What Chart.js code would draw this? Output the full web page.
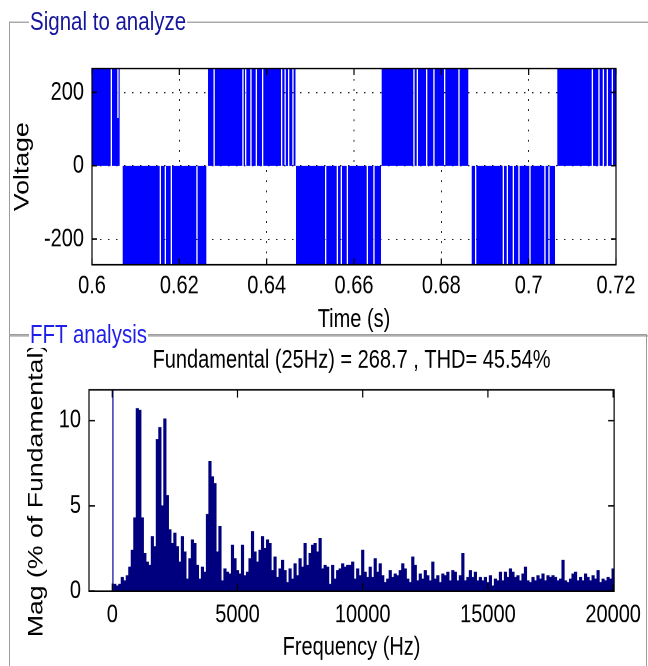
<!DOCTYPE html>
<html>
<head>
<meta charset="utf-8">
<script src="https://cdn.jsdelivr.net/npm/chart.js@4.4.0/dist/chart.umd.min.js"></script>
<style>
  html { margin: 0; padding: 0; background: #fff; overflow: hidden; }
  body { margin: 0; padding: 0; background: #fff; height: 666px; }
  #page {
    position: relative; width: 648px; height: 525px;
    transform: scaleY(1.27); transform-origin: 0 0;
    font-family: "Liberation Sans", Arial, sans-serif;
  }
  .panel { position: absolute; border: 1px solid #9c9c9c; }
  .legend { position: absolute; top: -13px; background: #fff; padding: 0 1px; font-size: 20.5px; line-height: 24px; white-space: nowrap; }
  canvas { position: absolute; left: 0; }
</style>
</head>
<body>
<div id="page">
  <div class="panel" style="left:9px; top:17px; width:700px; height:246px;">
    <span class="legend" style="left:19px; color:#15159c;">Signal to analyze</span>
  </div>
  <div class="panel" style="left:9px; top:263px; width:636px; height:300px;">
    <span class="legend" style="left:19px; color:#1f1fe6;">FFT analysis</span>
  </div>
  <canvas id="signalChart" width="648" height="270" style="top:0"></canvas>
  <canvas id="fftChart" width="648" height="250" style="top:274px"></canvas>
</div>

<script>
// signal to analyze: half-cycle blocks of the PWM voltage (time in s, level in V)
const blockStart = [0.599, 0.60703, 0.62657, 0.64672, 0.66634, 0.68696, 0.70656];
const blockEnd = [0.60634, 0.62618, 0.64660, 0.66618, 0.68617, 0.70603, 0.721];
const blockLevel = [265, -270, 265, -270, 265, -270, 265];

// short gaps inside the blocks (time in s, level the signal drops to)
const notchTime = [
  0.60428, 0.60579,
  0.61550, 0.61665, 0.61802, 0.62389,
  0.62782, 0.63442, 0.63504, 0.63625, 0.63749, 0.63893, 0.64328, 0.64408, 0.64488, 0.64587,
  0.65336, 0.65604, 0.65695, 0.65833, 0.66291, 0.66442,
  0.67358, 0.67436, 0.67649, 0.67816, 0.68061, 0.68389,
  0.68771, 0.69405, 0.69497, 0.69634, 0.69763, 0.70015, 0.70358, 0.70450,
  0.71444, 0.71595, 0.71696, 0.71787, 0.71902,
];
const notchLevel = [
  0, 130,
  0, 0, 0, 0,
  0, 0, 0, 0, 0, 0, 0, 0, 0, 0,
  0, 0, 0, 0, 0, 0,
  0, 0, 0, 0, 0, 0,
  0, 0, 0, 0, 0, 0, 0, 0,
  0, 0, 0, 0, 0,
];
const notchWidth = 0.0003;

const timeTicks = [0.6, 0.62, 0.64, 0.66, 0.68, 0.7, 0.72];

// FFT analysis: harmonic magnitude (% of fundamental) in 100 Hz bins, 100 Hz .. 20000 Hz
const binStep = 100;
const fundamentalFreq = 25;
const fundamentalMag = 100;
const specMag = [
  0.4, 0.3, 0.4, 0.8, 0.6, 0.9, 1.4, 2.4, 4.3, 10.7,
  10.6, 4.3, 2.2, 1.7, 1.5, 3.2, 2.6, 8.9, 9.6, 5.0,
  10.1, 5.6, 3.6, 2.8, 3.4, 2.6, 1.7, 3.2, 2.3, 0.7,
  1.9, 3.0, 2.8, 1.5, 0.7, 1.4, 1.1, 4.5, 7.6, 6.7,
  6.3, 2.3, 3.8, 0.6, 1.3, 1.1, 1.0, 2.7, 1.9, 1.2,
  1.0, 2.7, 0.9, 1.1, 1.9, 3.5, 2.3, 1.7, 2.4, 3.2,
  2.5, 3.0, 2.8, 1.2, 2.0, 0.8, 1.3, 1.8, 1.2, 0.5,
  1.3, 0.7, 1.6, 0.9, 1.9, 1.4, 2.8, 1.5, 2.2, 2.7,
  2.8, 2.3, 3.1, 1.3, 1.5, 1.4, 0.4, 1.5, 0.7, 1.2,
  1.3, 1.6, 1.4, 1.5, 1.5, 1.7, 0.7, 1.3, 0.9, 2.4,
  1.1, 0.8, 1.4, 0.8, 1.9, 1.1, 1.6, 0.9, 0.5, 0.7,
  1.2, 0.8, 1.0, 0.9, 1.2, 1.6, 1.3, 0.7, 0.5, 2.0,
  1.5, 0.6, 1.0, 0.7, 1.2, 0.9, 0.6, 1.7, 0.7, 0.9,
  0.5, 1.0, 0.9, 1.1, 0.6, 1.2, 1.1, 0.6, 0.9, 2.2,
  0.6, 0.8, 1.2, 0.8, 1.1, 0.6, 0.8, 0.6, 0.8, 0.5,
  0.9, 0.3, 0.7, 0.6, 1.1, 0.6, 1.1, 0.8, 1.3, 1.1,
  0.8, 0.9, 0.6, 1.0, 1.4, 0.6, 0.5, 0.8, 0.6, 0.9,
  0.7, 1.0, 0.6, 0.9, 0.8, 0.9, 0.8, 0.6, 0.7, 1.8,
  0.6, 0.5, 0.7, 1.0, 1.1, 0.6, 0.8, 0.6, 1.0, 0.8,
  0.6, 0.9, 0.7, 1.2, 0.5, 0.7, 0.6, 0.8, 0.7, 1.3,
];
const freqTicks = [0, 5000, 10000, 15000, 20000];
const magTicks = [0, 5, 10];

const fftTitle = "Fundamental (25Hz) = 268.7 , THD= 45.54%";

const FONT = "'Liberation Sans', Arial, sans-serif";

// build the stepped signal
var signalPoints = [];
for (var b = 0; b < blockStart.length; b++) {
  signalPoints.push({ x: blockStart[b], y: blockLevel[b] });
  for (var n = 0; n < notchTime.length; n++) {
    if (notchTime[n] > blockStart[b] && notchTime[n] < blockEnd[b]) {
      signalPoints.push({ x: notchTime[n], y: notchLevel[n] });
      signalPoints.push({ x: notchTime[n] + notchWidth, y: blockLevel[b] });
    }
  }
  signalPoints.push({ x: blockEnd[b], y: 0 });
}

var specPoints = specMag.map(function (m, i) {
  return { x: (i + 1) * binStep, y: m };
});

// black box round the axes with the ticks pointing inwards
const matlabFrame = {
  id: "matlabFrame",
  afterDatasetsDraw(chart, args, opts) {
    const ctx = chart.ctx;
    const a = chart.chartArea;
    const len = opts.tickLen || 5;
    const xs = chart.scales.x;
    const ys = chart.scales.y;
    ctx.save();
    ctx.strokeStyle = "#000";
    ctx.lineWidth = 1.2;
    ctx.beginPath();
    xs.ticks.forEach(function (t) {
      const px = xs.getPixelForValue(t.value);
      ctx.moveTo(px, a.bottom);
      ctx.lineTo(px, a.bottom - len);
      ctx.moveTo(px, a.top);
      ctx.lineTo(px, a.top + len);
    });
    ys.ticks.forEach(function (t) {
      const py = ys.getPixelForValue(t.value);
      ctx.moveTo(a.left, py);
      ctx.lineTo(a.left + len, py);
      ctx.moveTo(a.right, py);
      ctx.lineTo(a.right - len, py);
    });
    ctx.stroke();
    ctx.strokeRect(a.left, a.top, a.right - a.left, a.bottom - a.top);
    ctx.restore();
  },
};

function tickFont() {
  return { family: FONT, size: 20 };
}

new Chart(document.getElementById("signalChart"), {
  type: "line",
  data: {
    datasets: [
      {
        data: signalPoints,
        stepped: "before",
        fill: "origin",
        backgroundColor: "#0000ff",
        borderColor: "rgba(0,0,0,0)",
        borderWidth: 0,
        pointRadius: 0,
      },
    ],
  },
  options: {
    responsive: false,
    animation: false,
    devicePixelRatio: 2,
    layout: { padding: { left: 10, top: 54, right: 32, bottom: 6 } },
    plugins: {
      legend: { display: false },
      tooltip: { enabled: false },
      matlabFrame: { tickLen: 5 },
    },
    scales: {
      x: {
        type: "linear",
        min: 0.6,
        max: 0.72,
        afterFit: function (s) { s.height = 55.5; },
        afterBuildTicks: function (s) { s.ticks = timeTicks.map(function (v) { return { value: v }; }); },
        ticks: {
          padding: 5,
          color: "#000",
          font: tickFont(),
          maxRotation: 0,
          callback: function (v) { return String(+v.toFixed(2)); },
        },
        grid: { color: "#222", lineWidth: 1, drawTicks: false },
        border: { display: false, dash: [1.5, 6.5] },
        title: { display: true, text: "Time (s)", color: "#000", font: { family: FONT, size: 20 }, padding: 0 },
      },
      y: {
        min: -270,
        max: 265,
        afterFit: function (s) { s.width = 82; },
        ticks: {
          stepSize: 200,
          includeBounds: false,
          padding: 8,
          color: "#000",
          font: tickFont(),
          callback: function (v) { return String(v); },
        },
        grid: { color: "#222", lineWidth: 1, drawTicks: false },
        border: { display: false, dash: [1.5, 6.5] },
        title: { display: true, text: "Voltage", color: "#000", font: { family: FONT, size: 21 }, padding: 0 },
      },
    },
  },
  plugins: [matlabFrame],
});

new Chart(document.getElementById("fftChart"), {
  type: "bar",
  data: {
    datasets: [
      {
        type: "bar",
        data: specPoints,
        backgroundColor: "#00007f",
        borderWidth: 0,
        barPercentage: 1,
        categoryPercentage: 1,
      },
      {
        type: "line",
        data: [
          { x: fundamentalFreq, y: 0 },
          { x: fundamentalFreq, y: fundamentalMag },
        ],
        borderColor: "#2a2aa8",
        borderWidth: 1.4,
        pointRadius: 0,
        fill: false,
      },
    ],
  },
  options: {
    responsive: false,
    animation: false,
    devicePixelRatio: 2,
    layout: { padding: { left: 24, top: 0, right: 32, bottom: 2 } },
    plugins: {
      legend: { display: false },
      tooltip: { enabled: false },
      matlabFrame: { tickLen: 6 },
      title: {
        display: true,
        text: fftTitle,
        color: "#000",
        fullSize: false,
        font: { family: FONT, size: 20, weight: "normal", lineHeight: 1 },
        padding: { top: 0, bottom: 13 },
      },
    },
    scales: {
      x: {
        type: "linear",
        offset: false,
        min: -930,
        max: 20040,
        afterFit: function (s) { s.height = 56.6; },
        afterBuildTicks: function (s) { s.ticks = freqTicks.map(function (v) { return { value: v }; }); },
        ticks: {
          padding: 7,
          color: "#000",
          font: tickFont(),
          maxRotation: 0,
          callback: function (v) { return String(v); },
        },
        grid: { display: false, drawTicks: false },
        border: { display: false },
        title: { display: true, text: "Frequency (Hz)", color: "#000", font: { family: FONT, size: 20 }, padding: 0 },
      },
      y: {
        min: 0,
        max: 11.8,
        afterFit: function (s) { s.width = 65; },
        afterBuildTicks: function (s) { s.ticks = magTicks.map(function (v) { return { value: v }; }); },
        ticks: {
          padding: 8,
          color: "#000",
          font: tickFont(),
          callback: function (v) { return String(v); },
        },
        grid: { display: false, drawTicks: false },
        border: { display: false },
        title: { display: true, text: "Mag (% of Fundamental)", color: "#000", font: { family: FONT, size: 21 }, padding: 0 },
      },
    },
  },
  plugins: [matlabFrame],
});
</script>
</body>
</html>
